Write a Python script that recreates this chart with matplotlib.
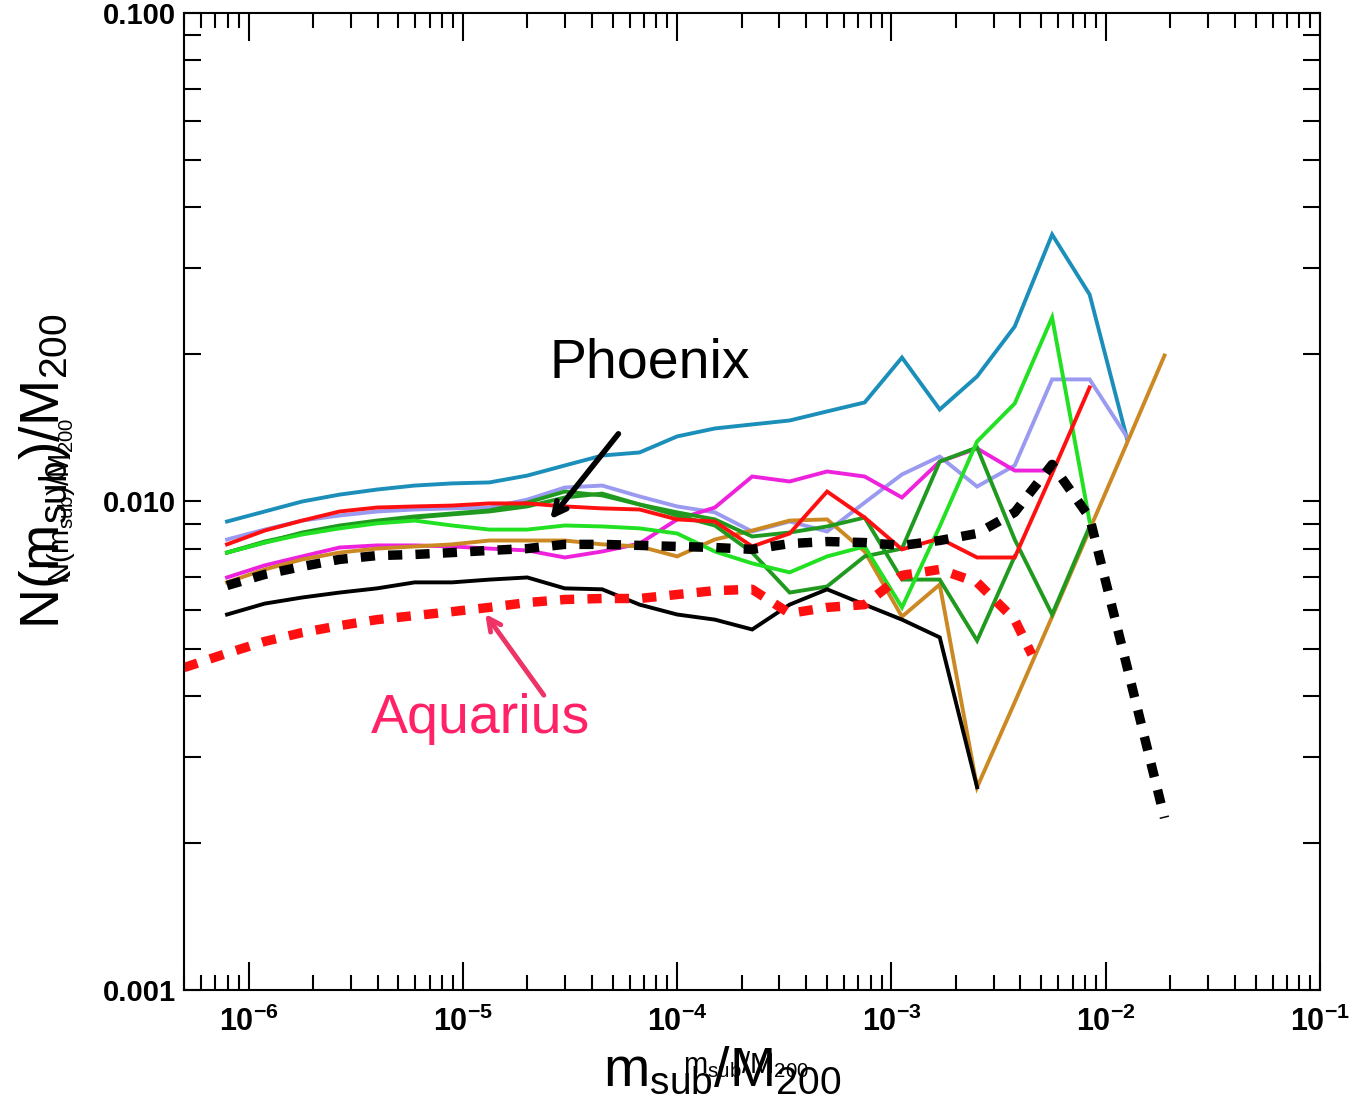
import matplotlib
matplotlib.use('Agg')
import matplotlib.pyplot as plt
from matplotlib.ticker import LogLocator, FixedLocator, FixedFormatter, NullFormatter

plt.rcParams['font.family'] = ['Liberation Sans', 'DejaVu Sans']
plt.rcParams['mathtext.fontset'] = 'custom'
plt.rcParams['mathtext.rm'] = 'Liberation Sans'
plt.rcParams['mathtext.it'] = 'Liberation Sans:italic'
plt.rcParams['mathtext.bf'] = 'Liberation Sans:bold'

# subhalo mass bins (m_sub / M_200)
mass = [7.94e-7, 1.19e-6, 1.78e-6, 2.66e-6, 3.98e-6, 5.96e-6, 8.91e-6, 1.33e-5,
        2.00e-5, 2.99e-5, 4.47e-5, 6.68e-5, 1.00e-4, 1.50e-4, 2.24e-4, 3.35e-4,
        5.01e-4, 7.50e-4, 1.12e-3, 1.68e-3, 2.51e-3, 3.76e-3, 5.62e-3, 8.41e-3,
        1.26e-2, 1.88e-2]

# individual halos
cyan = [0.00910, 0.00954, 0.01000, 0.01033, 0.01058, 0.01078, 0.01089, 0.01094,
        0.01130, 0.01185, 0.01242, 0.01260, 0.01359, 0.01411, 0.01438, 0.01465,
        0.01529, 0.01595, 0.01971, 0.01543, 0.01803, 0.02281, 0.03520, 0.02653,
        0.01339]
lavender = [0.00836, 0.00876, 0.00914, 0.00936, 0.00954, 0.00963, 0.00968, 0.00972,
            0.01009, 0.01068, 0.01078, 0.01024, 0.00977, 0.00950, 0.00868, 0.00910,
            0.00868, 0.00995, 0.01136, 0.01236, 0.01073, 0.01185, 0.01778, 0.01778,
            0.01352]
magenta = [0.00699, 0.00740, 0.00772, 0.00805, 0.00813, 0.00813, 0.00809, 0.00801,
           0.00794, 0.00768, 0.00790, 0.00820, 0.00919, 0.00972, 0.01125, 0.01099,
           0.01152, 0.01125, 0.01019, 0.01207, 0.01284, 0.01157, 0.01157]
green_a = [0.00786, 0.00824, 0.00864, 0.00893, 0.00914, 0.00932, 0.00945, 0.00959,
           0.00995, 0.01048, 0.01029, 0.00986, 0.00950, 0.00919, 0.00848, 0.00864,
           0.00889, 0.00927, 0.00692, 0.00692, 0.00519, 0.00772]
green_b = [0.00786, 0.00828, 0.00860, 0.00889, 0.00910, 0.00927, 0.00941, 0.00954,
           0.00977, 0.01019, 0.01038, 0.00986, 0.00936, 0.00893, 0.00786, 0.00651,
           0.00670, 0.00772, 0.00801, 0.01207, 0.01290, 0.00836, 0.00587, 0.00889]
lime = [0.00786, 0.00824, 0.00856, 0.00881, 0.00902, 0.00914, 0.00893, 0.00876,
        0.00876, 0.00893, 0.00889, 0.00881, 0.00860, 0.00790, 0.00747, 0.00716,
        0.00772, 0.00809, 0.00607, 0.00889, 0.01327, 0.01587, 0.02381, 0.00910]
red = [0.00817, 0.00872, 0.00914, 0.00954, 0.00972, 0.00977, 0.00981, 0.00991,
       0.00991, 0.00977, 0.00968, 0.00963, 0.00919, 0.00910, 0.00809, 0.00860,
       0.01048, 0.00927, 0.00798, 0.00840, 0.00768, 0.00768, 0.01141, 0.01712]
brown = [0.00683, 0.00726, 0.00761, 0.00786, 0.00801, 0.00809, 0.00817, 0.00832,
         0.00832, 0.00832, 0.00817, 0.00809, 0.00772, 0.00836, 0.00872, 0.00914,
         0.00919, 0.00790, 0.00581, 0.00676, 0.00260, 0.00388, 0.00581, 0.00876,
         0.01321, 0.01990]
black = [0.00587, 0.00618, 0.00636, 0.00651, 0.00664, 0.00683, 0.00683, 0.00692,
         0.00699, 0.00664, 0.00661, 0.00615, 0.00587, 0.00573, 0.00547, 0.00615,
         0.00661, 0.00615, 0.00573, 0.00527, 0.00260]

# Phoenix average
phoenix = [0.00673, 0.00709, 0.00736, 0.00761, 0.00775, 0.00779, 0.00786, 0.00794,
           0.00801, 0.00817, 0.00817, 0.00813, 0.00809, 0.00805, 0.00798, 0.00820,
           0.00828, 0.00824, 0.00813, 0.00832, 0.00860, 0.00950, 0.01191, 0.00927,
           0.00457, 0.00225]

# Aquarius average
aquarius_mass = [5.0e-7] + mass[:22] + [4.52e-3]
aquarius = [0.00457, 0.00489, 0.00517, 0.00539, 0.00557, 0.00573, 0.00584, 0.00595,
            0.00607, 0.00621, 0.00630, 0.00633, 0.00633, 0.00645, 0.00657, 0.00661,
            0.00590, 0.00607, 0.00615, 0.00706, 0.00726, 0.00683, 0.00573, 0.00486]

halos = [
    (cyan, '#1b8fba'),
    (lavender, '#9a9af0'),
    (magenta, '#ee22dd'),
    (brown, '#cc8822'),
    (green_b, '#1f9a1f'),
    (green_a, '#1f9a1f'),
    (lime, '#22e022'),
    (red, '#ff1010'),
    (black, '#000000'),
]

fig = plt.figure(figsize=(13.62, 11.04), dpi=100)
ax = fig.add_axes([0.1351, 0.1033, 0.8341, 0.8849])

for vals, col in halos:
    ax.plot(mass[:len(vals)], vals, color=col, lw=2.8, solid_joinstyle='miter')

ax.plot(mass, phoenix, color='black', lw=6.8, dashes=(1.5, 1.4))
ax.plot(aquarius_mass, aquarius, color='#ff1010', lw=6.8, dashes=(1.5, 1.4))

ax.set_xscale('log')
ax.set_yscale('log')
ax.set_xlim(5e-7, 1e-1)
ax.set_ylim(1e-3, 1e-1)

ax.xaxis.set_major_locator(LogLocator(base=10))
ax.xaxis.set_minor_locator(LogLocator(base=10, subs=range(2, 10)))
ax.xaxis.set_minor_formatter(NullFormatter())
ax.yaxis.set_major_locator(FixedLocator([0.001, 0.01, 0.1]))
ax.yaxis.set_major_formatter(FixedFormatter(['0.001', '0.010', '0.100']))
ax.yaxis.set_minor_locator(LogLocator(base=10, subs=range(2, 10)))
ax.yaxis.set_minor_formatter(NullFormatter())

ax.tick_params(axis='both', which='both', direction='in', top=True, right=True,
               width=1.5, colors='black')
ax.tick_params(axis='x', which='major', length=20, pad=12, labelsize=22)
ax.tick_params(axis='x', which='minor', length=11)
ax.tick_params(axis='y', which='both', length=12, pad=6, labelsize=21)
for lbl in ax.get_xticklabels() + ax.get_yticklabels():
    lbl.set_fontweight('bold')
for sp in ax.spines.values():
    sp.set_linewidth(1.5)

# axis titles, drawn twice at two sizes
xlab = r'm$_{\mathregular{sub}}$/M$_{\mathregular{200}}$'
ylab = r'N(m$_{\mathregular{sub}}$)/M$_{\mathregular{200}}$'
fig.text(0.530, 0.0163, xlab, fontsize=40, ha='center', va='baseline')
fig.text(0.548, 0.028, xlab, fontsize=21, ha='center', va='baseline')
fig.text(0.033, 0.573, ylab, fontsize=40, rotation=90, ha='center', va='center')
fig.text(0.045, 0.546, ylab, fontsize=21, rotation=90, ha='center', va='center')

# labels for the two reference simulations
ax.text(7.48e-5, 0.01917, 'Phoenix', fontsize=40, color='black',
        ha='center', va='center')
ax.annotate('', xy=(2.51e-5, 0.0091), xytext=(5.42e-5, 0.0139),
            arrowprops=dict(arrowstyle='->, head_length=0.9, head_width=0.45',
                            color='black', lw=4))
ax.text(1.21e-5, 0.00358, 'Aquarius', fontsize=40, color='#ff2266',
        ha='center', va='center')
ax.annotate('', xy=(1.25e-5, 0.00595), xytext=(2.43e-5, 0.00397),
            arrowprops=dict(arrowstyle='->, head_length=0.9, head_width=0.45',
                            color='#ee3366', lw=3.5))

fig.savefig('out.png', dpi=100)
